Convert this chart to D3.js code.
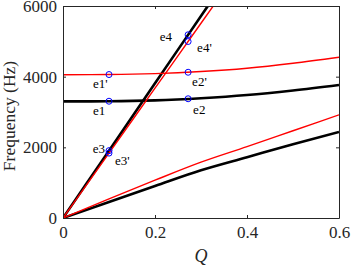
<!DOCTYPE html>
<html lang="en">
<head>
<meta charset="UTF-8" />
<title>Dispersion curves</title>
<script src="https://d3js.org/d3.v7.min.js"></script>
<style>
    body { margin: 0; background: #fff; }
    svg text { font-family: "Liberation Serif", "Times New Roman", serif; fill: #262626; }
</style>
</head>
<body>
<svg id="chart" width="354" height="268"></svg>
<script>
// data (Q, frequency in Hz)
const qTicks = [0, 0.2, 0.4, 0.6];
const fTicks = [0, 2000, 4000, 6000];

const blackFlat = [[0, 3300], [0.1, 3305], [0.2, 3330], [0.3, 3390], [0.4, 3480], [0.5, 3610], [0.6, 3765]];
const redFlat = [[0, 4055], [0.1, 4060], [0.2, 4085], [0.3, 4145], [0.4, 4240], [0.5, 4380], [0.6, 4550]];
const blackSteep = [[0, 0], [0.1, 1906], [0.2, 3812], [0.3, 5718], [0.35, 6671]];
const redSteep = [[0, 0], [0.1, 1837], [0.2, 3674], [0.3, 5511], [0.35, 6429]];
const blackLow = [[0, 0], [0.1, 455], [0.2, 905], [0.3, 1350], [0.4, 1720], [0.5, 2090], [0.6, 2435]];
const redLow = [[0, 0], [0.1, 540], [0.2, 1070], [0.3, 1580], [0.4, 2020], [0.5, 2470], [0.6, 2920]];

const pointNames = ["e1", "e1'", "e2", "e2'", "e3", "e3'", "e4", "e4'"];
const pointQ = [0.1, 0.1, 0.272, 0.272, 0.1, 0.1, 0.272, 0.272];
const pointF = [3305, 4060, 3375, 4125, 1906, 1837, 5185, 4995];

const margin = { left: 63, right: 15, top: 6, bottom: 50 };
const svg = d3.select("#chart"),
    width = +svg.attr("width"),
    height = +svg.attr("height");

const x = d3.scaleLinear().domain([0, 0.6]).range([margin.left, width - margin.right]);
const y = d3.scaleLinear().domain([0, 6000]).range([height - margin.bottom, margin.top]);

svg.append("clipPath").attr("id", "clip")
    .append("rect")
    .attr("x", x(0)).attr("y", y(6000))
    .attr("width", x(0.6) - x(0)).attr("height", y(0) - y(6000));

const line = d3.line()
    .x(d => x(d[0]))
    .y(d => y(d[1]))
    .curve(d3.curveMonotoneX);

const plot = svg.append("g").attr("clip-path", "url(#clip)");

// black curves under, red on top
[blackFlat, blackSteep, blackLow].forEach(s => {
    plot.append("path").datum(s)
        .attr("d", line)
        .attr("fill", "none")
        .attr("stroke", "#000")
        .attr("stroke-width", 2.6);
});
[redFlat, redSteep, redLow].forEach(s => {
    plot.append("path").datum(s)
        .attr("d", line)
        .attr("fill", "none")
        .attr("stroke", "#ff0000")
        .attr("stroke-width", 1.4);
});

// marked points
const pts = pointNames.map((n, i) => ({ name: n, q: pointQ[i], f: pointF[i] }));
svg.selectAll(".mk").data(pts).enter()
    .append("circle")
    .attr("class", "mk")
    .attr("cx", d => x(d.q))
    .attr("cy", d => y(d.f))
    .attr("r", 3)
    .attr("fill", "none")
    .attr("stroke", "#0000ff")
    .attr("stroke-width", 1);

// label offsets [dx, dy, anchor]
const labelPos = {
    "e1": [-16, 14, "start"],
    "e1'": [-16, 13, "start"],
    "e2": [5, 15, "start"],
    "e2'": [4, 14, "start"],
    "e3": [-4, 2, "end"],
    "e3'": [6, 12, "start"],
    "e4": [-16, 6, "end"],
    "e4'": [9, 10, "start"]
};
svg.selectAll(".lbl").data(pts).enter()
    .append("text")
    .attr("class", "lbl")
    .attr("x", d => x(d.q) + labelPos[d.name][0])
    .attr("y", d => y(d.f) + labelPos[d.name][1])
    .attr("text-anchor", d => labelPos[d.name][2])
    .style("font-size", "13px")
    .style("fill", "#000")
    .text(d => d.name);

// axes: box with inward ticks
const axisColor = "#262626";
const xAxis = svg.append("g")
    .attr("transform", "translate(0," + y(0) + ")")
    .call(d3.axisBottom(x).tickValues(qTicks).tickSizeInner(-3).tickSizeOuter(0).tickPadding(8).tickFormat(d3.format("")));
const xAxisTop = svg.append("g")
    .attr("transform", "translate(0," + y(6000) + ")")
    .call(d3.axisTop(x).tickValues(qTicks).tickSizeInner(-3).tickSizeOuter(0).tickFormat(""));
const yAxis = svg.append("g")
    .attr("transform", "translate(" + x(0) + ",0)")
    .call(d3.axisLeft(y).tickValues(fTicks).tickSizeInner(-3).tickSizeOuter(0).tickPadding(6).tickFormat(d3.format("d")));
const yAxisRight = svg.append("g")
    .attr("transform", "translate(" + x(0.6) + ",0)")
    .call(d3.axisRight(y).tickValues(fTicks).tickSizeInner(-3).tickSizeOuter(0).tickFormat(""));

[xAxis, xAxisTop, yAxis, yAxisRight].forEach(a => {
    a.attr("font-family", null).attr("font-size", null);
    a.select(".domain").attr("stroke", axisColor).attr("stroke-width", 1);
    a.selectAll(".tick line").attr("stroke", axisColor);
    a.selectAll("text")
        .style("font-family", '"Liberation Serif", "Times New Roman", serif')
        .style("font-size", "17px")
        .attr("fill", axisColor);
});

// axis titles
svg.append("text")
    .attr("x", (x(0) + x(0.6)) / 2)
    .attr("y", 262)
    .attr("text-anchor", "middle")
    .style("font-size", "18px")
    .style("font-style", "italic")
    .text("Q");

svg.append("text")
    .attr("transform", "translate(15," + 116 + ") rotate(-90)")
    .attr("text-anchor", "middle")
    .style("font-size", "17.5px")
    .text("Frequency (Hz)");
</script>
</body>
</html>
